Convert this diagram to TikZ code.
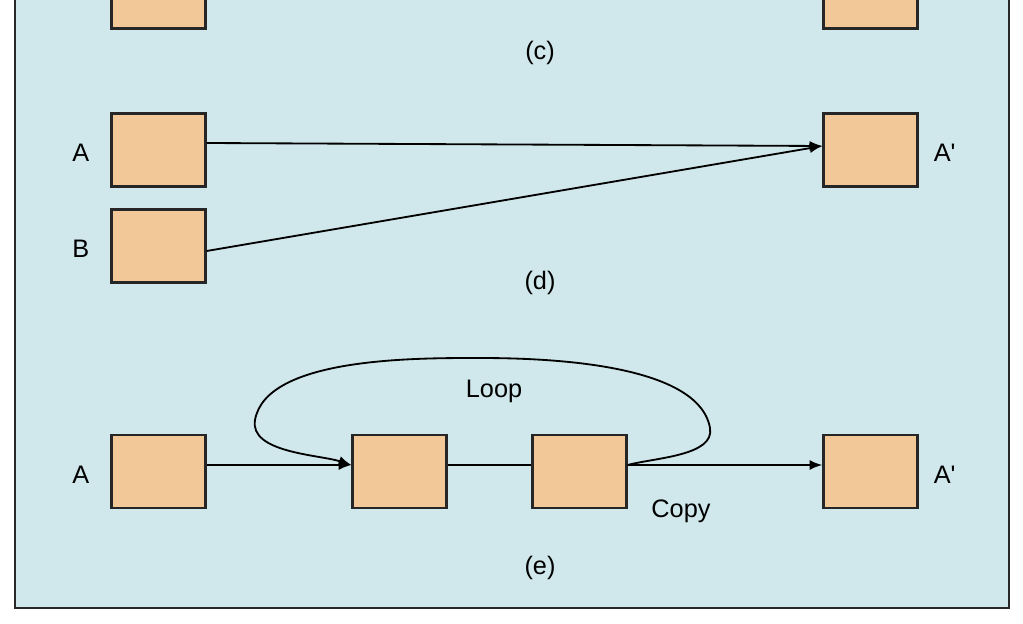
\documentclass[tikz,border=0pt]{standalone}
\usepackage{fontspec}
\setmainfont{Liberation Sans}
\usetikzlibrary{arrows.meta,positioning}
\definecolor{panelblue}{RGB}{208,232,236}
\definecolor{boxpeach}{RGB}{242,200,152}
\definecolor{framegray}{RGB}{40,40,40}
\tikzset{
  flow-panel/.style={draw=framegray, fill=panelblue, line width=1.9pt},
  flow-box/.style={draw=black!85, fill=boxpeach, line width=1.6pt,
    minimum width=2.35cm, minimum height=1.82cm, inner sep=0pt},
  flow-label/.style={font=\fontsize{18}{21}\selectfont, inner sep=2pt, yshift=-0.075cm},
  flow-link/.style={line width=1.3pt, -{Latex[length=9pt,width=7pt]}},
  flow-line/.style={line width=1.3pt}
}

\begin{document}
\begin{tikzpicture}[x=0.025cm, y=-0.025cm]
  \useasboundingbox (0,0) rectangle (1023,623);
  \clip (0,0) rectangle (1023,623);
  \fill[white] (0,0) rectangle (1023,623);
  \draw[flow-panel] (15,-40) rectangle (1009,608);
  % (c)
  \node[flow-box] (ca) at (158.5,-8) {};
  \node[flow-box] (cap) at (870.5,-8) {};
  \node[flow-label] (cc) at (540,50) {(c)};
  % (d)
  \node[flow-box] (da) at (158.5,150) {};
  \node[flow-box] (db) at (158.5,246) {};
  \node[flow-box] (dap) at (870.5,150) {};
  \node[flow-label, left=0.45cm of da] (dal) {A};
  \node[flow-label, left=0.45cm of db] (dbl) {B};
  \node[flow-label, right=0.3cm of dap] (dapl) {A\textquotesingle};
  \node[flow-label] (dc) at (540,280) {(d)};
  \draw[flow-link] ([yshift=0.175cm]da.east) -- ([yshift=0.1cm]dap.west);
  \draw[flow-link] ([yshift=-0.125cm]db.east) -- ([yshift=0.1cm]dap.west);
  % (e)
  \node[flow-box] (ea) at (158.5,471.5) {};
  \node[flow-box] (eb2) at (399.5,471.5) {};
  \node[flow-box] (eb3) at (579.5,471.5) {};
  \node[flow-box] (eap) at (870.5,471.5) {};
  \node[flow-label, left=0.45cm of ea] (eal) {A};
  \node[flow-label, right=0.3cm of eap] (eapl) {A\textquotesingle};
  \node[flow-label] (loop) at (494,388) {Loop};
  \node[flow-label] (copy) at (681,508) {Copy};
  \node[flow-label] (ec) at (540,565) {(e)};
  \coordinate (loop-r) at (710,428);
  \coordinate (loop-t) at (480,358);
  \coordinate (loop-l) at (255,420);
  \draw[flow-link] ([yshift=0.1625cm]ea.east) -- ([yshift=0.1625cm]eb2.west);
  \draw[flow-line] ([yshift=0.1625cm]eb2.east) -- ([yshift=0.1625cm]eb3.west);
  \draw[flow-link] ([yshift=0.1625cm]eb3.east) -- ([yshift=0.1625cm]eap.west);
  \draw[flow-link] ([yshift=0.1625cm]eb3.east) to[out=15,in=-80,looseness=0.8] (loop-r)
    to[out=100,in=0,looseness=0.7] (loop-t) to[out=180,in=80,looseness=0.7] (loop-l)
    to[out=-100,in=162,looseness=0.8] ([yshift=0.1625cm]eb2.west);
\end{tikzpicture}
\end{document}
